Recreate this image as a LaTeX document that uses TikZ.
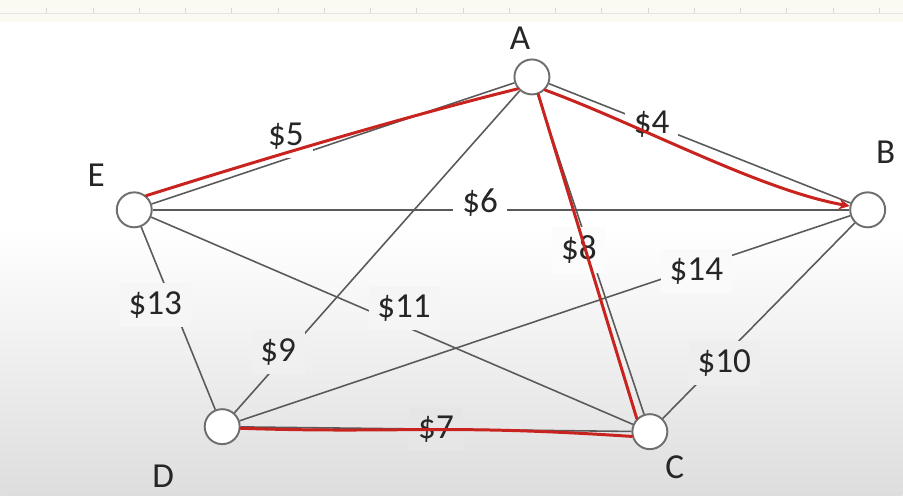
\documentclass[tikz,border=0pt]{standalone}
\usepackage{fontspec}
\setmainfont{Carlito}
\usetikzlibrary{arrows,positioning,calc}
\definecolor{edgegray}{RGB}{90,90,90}
\definecolor{ringgray}{RGB}{110,110,110}
\definecolor{penred}{RGB}{200,35,30}
\definecolor{stripcol}{RGB}{250,250,242}

\begin{document}
\begin{tikzpicture}[x=0.02cm,y=-0.02cm,>=stealth,
  vertex/.style={circle,draw=ringgray,line width=1.1pt,fill=white,
                 minimum size=0.7cm,inner sep=0pt},
  edge/.style={draw=edgegray,line width=0.9pt},
  cost/.style={fill=white,inner sep=5pt,text=black!85,
               font=\fontsize{20}{24}\selectfont},
  letter/.style={text=black!85,font=\fontsize{20}{24}\selectfont},
  pen/.style={draw=penred,line width=1.7pt,line cap=round}]
  % background: screen strip on top, grey fade at the bottom
  \fill[white] (0,0) rectangle (903,496);
  \shade[top color=white,bottom color=black!13] (0,230) rectangle (903,496);
  \fill[stripcol] (0,0) rectangle (903,22);
  \draw[black!10,line width=0.4pt] (0,13) -- (903,13);
  \foreach \i in {1,...,19}
    \draw[black!15,line width=0.4pt] (46.3*\i,13) -- (46.3*\i,8);
  \useasboundingbox (0,0) rectangle (903,496);

  % vertices
  \node[vertex] (A) at (532,77)  {};
  \node[vertex] (B) at (868,210) {};
  \node[vertex] (C) at (650,432) {};
  \node[vertex] (D) at (222,427) {};
  \node[vertex] (E) at (134,210) {};

  % vertex names
  \node[letter] (labA) at (520,38)  {A};
  \node[letter] (labB) at (886,152) {B};
  \node[letter] (labC) at (675,468) {C};
  \node[letter] (labD) at (163,477) {D};
  \node[letter] (labE) at (96,175)  {E};

  % edges and costs (label fill follows the grey fade)
  \draw[edge] (E) -- node[cost,pos=0.37,anchor=south] (c5) {\$5} (A);
  \draw[edge] (A) -- node[cost,pos=0.34] (c4) {\$4} (B);
  \draw[edge] (E) -- node[cost,pos=0.47,yshift=4pt] (c6) {\$6} (B);
  \draw[edge] (A) -- node[cost,fill=black!1,pos=0.486,xshift=-6pt] (c8) {\$8} (C);
  \draw[edge] (D) -- node[cost,fill=black!2,pos=0.748,yshift=-2pt] (c14) {\$14} (B);
  \draw[edge] (E) -- node[cost,fill=black!3.7,pos=0.427,xshift=-10pt] (c13) {\$13} (D);
  \draw[edge] (E) -- node[cost,fill=black!3.8,pos=0.525,yshift=10pt] (c11) {\$11} (C);
  \draw[edge] (A) -- node[cost,fill=black!6,pos=0.81,xshift=-6pt] (c9) {\$9} (D);
  \draw[edge] (C) -- node[cost,fill=black!6.6,pos=0.32,yshift=-4pt] (c10) {\$10} (B);
  \draw[edge] (D) -- node[cost,fill=black!9.7,pos=0.5] (c7) {\$7} (C);

  % red marks drawn over the graph
  \draw[pen] (E.50) .. controls (260,160) and (400,118) .. (A.220);
  \draw[pen,->] (A.-45) .. controls (640,125) and (760,190) .. (B.168);
  \draw[pen] (A.-70) -- (C.135);
  \draw[pen] (D.-5) .. controls (400,434) and (440,424) .. (C.195);
\end{tikzpicture}
\end{document}
